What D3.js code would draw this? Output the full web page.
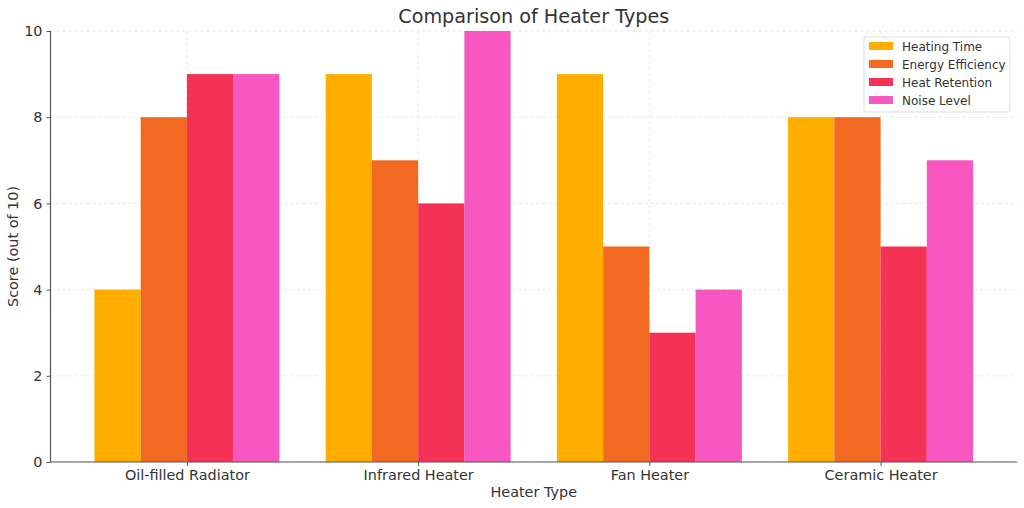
<!DOCTYPE html>
<html><head><meta charset="utf-8">
<script src="https://cdn.jsdelivr.net/npm/d3@7"></script>
<style>body{margin:0;background:#fff;font-family:"DejaVu Sans",sans-serif;}</style>
</head><body><svg id="c" width="1024" height="508"></svg>
<script>
const categories = ["Oil-filled Radiator","Infrared Heater","Fan Heater","Ceramic Heater"];
const seriesNames = ["Heating Time","Energy Efficiency","Heat Retention","Noise Level"];
const heatingTime = [4,9,9,8];
const energyEfficiency = [8,7,5,8];
const heatRetention = [9,6,3,5];
const noiseLevel = [9,10,4,7];
const seriesValues = [heatingTime, energyEfficiency, heatRetention, noiseLevel];
const colors = ["#FFAE00","#F26A21","#F53256","#F857C1"];
const yTicks = [0,2,4,6,8,10];

const svg = d3.select("#c");
const L=50.5, R=1017, T=31, B=462;
const x = d3.scaleLinear().domain([-0.59,3.59]).range([L,R]);
const y = d3.scaleLinear().domain([0,10]).range([B,T]);
const txt="#333";

// grid
const g = svg.append("g");
g.selectAll(".hg").data(yTicks).join("line")
 .attr("x1",L).attr("x2",R).attr("y1",d=>y(d)).attr("y2",d=>y(d))
 .attr("stroke","#e0e0e0").attr("stroke-width",0.8).attr("stroke-dasharray","3,3");
g.selectAll(".vg").data(categories.map((c,i)=>i)).join("line")
 .attr("x1",d=>x(d)).attr("x2",d=>x(d)).attr("y1",T).attr("y2",B)
 .attr("stroke","#e0e0e0").attr("stroke-width",0.8).attr("stroke-dasharray","3,3");

// bars
const bw=0.2;
seriesValues.forEach((vals,s)=>{
  svg.append("g").selectAll("rect").data(vals).join("rect")
   .attr("x",(d,i)=>x(i-0.4+s*bw))
   .attr("width",x(bw)-x(0))
   .attr("y",d=>y(d)).attr("height",d=>y(0)-y(d))
   .attr("fill",colors[s]);
});

// axes
const ya = svg.append("g").attr("transform",`translate(${L},0)`)
 .call(d3.axisLeft(y).tickValues(yTicks).tickSize(4).tickPadding(4).tickFormat(d3.format("d")));
const xa = svg.append("g").attr("transform",`translate(0,${B})`)
 .call(d3.axisBottom(x).tickValues([0,1,2,3]).tickSize(4).tickPadding(4).tickFormat(i=>categories[i]));
[ya,xa].forEach(a=>{
  a.select(".domain").attr("stroke","#555").attr("stroke-width",1.2);
  a.selectAll(".tick line").attr("stroke","#555");
  a.selectAll("text").attr("fill",txt).attr("font-size",14.4).attr("font-family","DejaVu Sans");
});
xa.select(".domain").attr("d",`M${L},0H${R}`);
ya.select(".domain").attr("d",`M0,${B}V${T}`);

// labels
svg.append("text").attr("x",(L+R)/2).attr("y",23).attr("text-anchor","middle")
 .attr("font-size",19.2).attr("fill",txt).text("Comparison of Heater Types");
svg.append("text").attr("x",(L+R)/2).attr("y",497).attr("text-anchor","middle")
 .attr("font-size",14.4).attr("fill",txt).text("Heater Type");
svg.append("text").attr("transform",`translate(18,${(T+B)/2}) rotate(-90)`).attr("text-anchor","middle")
 .attr("font-size",14.4).attr("fill",txt).text("Score (out of 10)");

// legend
const lg = svg.append("g").attr("transform","translate(864,37)");
lg.append("rect").attr("x",0).attr("y",0).attr("width",146).attr("height",75).attr("rx",2)
 .attr("fill","#fff").attr("fill-opacity",0.85).attr("stroke","#ddd");
seriesNames.forEach((n,i)=>{
  lg.append("rect").attr("x",5).attr("y",5+i*18).attr("width",24).attr("height",8).attr("fill",colors[i]);
  lg.append("text").attr("x",38).attr("y",13.5+i*18).attr("font-size",12).attr("fill",txt).text(n);
});
</script></body></html>
